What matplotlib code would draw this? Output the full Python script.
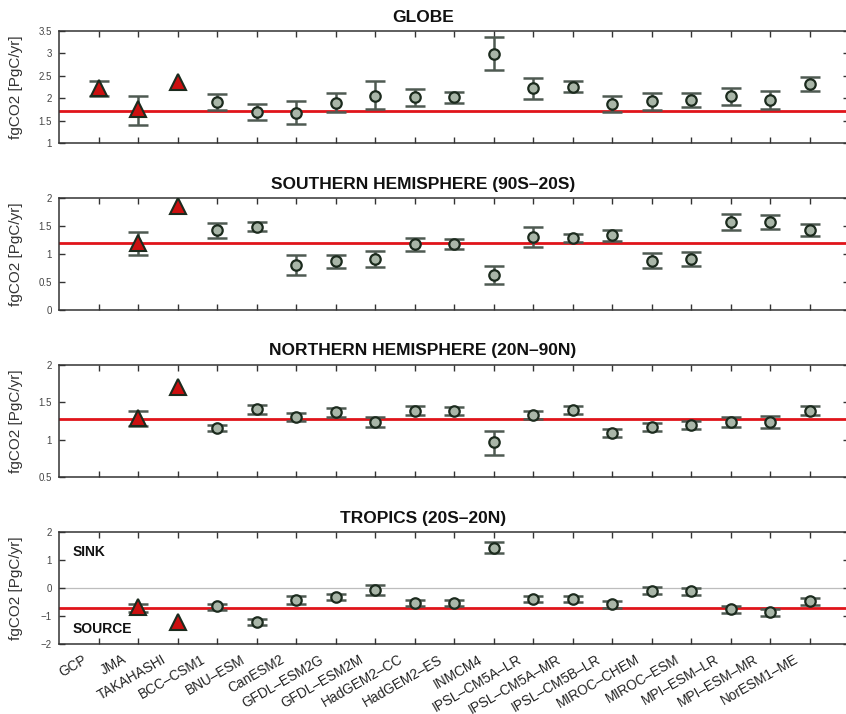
import numpy as np
import matplotlib
matplotlib.use("Agg")
import matplotlib.pyplot as plt
from matplotlib.transforms import ScaledTranslation

plt.rcParams['font.family'] = ['Liberation Sans', 'DejaVu Sans']

nan = np.nan

# Data products (first three) and CMIP5 models
names = ['GCP', 'JMA', 'TAKAHASHI', 'BCC\u2013CSM1', 'BNU\u2013ESM', 'CanESM2',
         'GFDL\u2013ESM2G', 'GFDL\u2013ESM2M', 'HadGEM2\u2013CC', 'HadGEM2\u2013ES',
         'INMCM4', 'IPSL\u2013CM5A\u2013LR', 'IPSL\u2013CM5A\u2013MR', 'IPSL\u2013CM5B\u2013LR',
         'MIROC\u2013CHEM', 'MIROC\u2013ESM', 'MPI\u2013ESM\u2013LR', 'MPI\u2013ESM\u2013MR',
         'NorESM1\u2013ME']
n_obs = 3

# GLOBE
globe_mean = [2.22, 1.75, 2.37, 1.91, 1.69, 1.67, 1.89, 2.06, 2.02, 2.02,
              2.98, 2.22, 2.26, 1.87, 1.93, 1.96, 2.04, 1.95, 2.31]
globe_low = [2.04, 1.40, nan, 1.74, 1.52, 1.42, 1.69, 1.77, 1.82, 1.90,
             2.62, 1.99, 2.14, 1.69, 1.74, 1.80, 1.85, 1.76, 2.16]
globe_high = [2.39, 2.05, nan, 2.10, 1.88, 1.93, 2.11, 2.39, 2.20, 2.14,
              3.36, 2.45, 2.39, 2.04, 2.11, 2.11, 2.22, 2.16, 2.47]
globe_ref = 1.72

# SOUTHERN HEMISPHERE (90S-20S)
sh_mean = [nan, 1.20, 1.85, 1.42, 1.48, 0.80, 0.87, 0.91, 1.17, 1.18,
           0.62, 1.31, 1.29, 1.34, 0.88, 0.91, 1.57, 1.57, 1.43]
sh_low = [nan, 0.985, nan, 1.29, 1.41, 0.62, 0.75, 0.77, 1.06, 1.09,
          0.46, 1.12, 1.21, 1.24, 0.75, 0.78, 1.42, 1.45, 1.33]
sh_high = [nan, 1.39, nan, 1.555, 1.57, 0.99, 0.99, 1.05, 1.28, 1.27,
           0.78, 1.48, 1.36, 1.43, 1.01, 1.03, 1.72, 1.69, 1.53]
sh_ref = 1.19

# NORTHERN HEMISPHERE (20N-90N)
nh_mean = [nan, 1.29, 1.71, 1.15, 1.405, 1.30, 1.365, 1.24, 1.39, 1.38,
           0.97, 1.335, 1.40, 1.085, 1.17, 1.20, 1.24, 1.24, 1.39]
nh_low = [nan, 1.18, nan, 1.11, 1.35, 1.25, 1.31, 1.17, 1.33, 1.325,
          0.80, 1.28, 1.34, 1.03, 1.12, 1.14, 1.17, 1.16, 1.33]
nh_high = [nan, 1.38, nan, 1.20, 1.46, 1.36, 1.43, 1.30, 1.445, 1.44,
           1.11, 1.39, 1.455, 1.14, 1.22, 1.255, 1.31, 1.32, 1.45]
nh_ref = 1.28

# TROPICS (20S-20N)
tr_mean = [nan, -0.69, -1.20, -0.66, -1.20, -0.42, -0.32, -0.06, -0.54, -0.54,
           1.43, -0.39, -0.40, -0.57, -0.10, -0.11, -0.76, -0.87, -0.48]
tr_low = [nan, -0.84, nan, -0.78, -1.32, -0.57, -0.44, -0.24, -0.66, -0.66,
          1.24, -0.51, -0.51, -0.70, -0.23, -0.24, -0.88, -0.99, -0.61]
tr_high = [nan, -0.57, nan, -0.57, -1.09, -0.28, -0.21, 0.11, -0.44, -0.44,
           1.63, -0.28, -0.29, -0.45, 0.02, 0.01, -0.64, -0.76, -0.36]
tr_ref = -0.73

panels = [
    ('GLOBE', globe_mean, globe_low, globe_high, globe_ref, (1, 3.5),
     [1, 1.5, 2, 2.5, 3, 3.5], ['1', '1.5', '2', '2.5', '3', '3.5']),
    ('SOUTHERN HEMISPHERE (90S\u201320S)', sh_mean, sh_low, sh_high, sh_ref, (0, 2),
     [0, 0.5, 1, 1.5, 2], ['0', '0.5', '1', '1.5', '2']),
    ('NORTHERN HEMISPHERE (20N\u201390N)', nh_mean, nh_low, nh_high, nh_ref, (0.5, 2),
     [0.5, 1, 1.5, 2], ['0.5', '1', '1.5', '2']),
    ('TROPICS (20S\u201320N)', tr_mean, tr_low, tr_high, tr_ref, (-2, 2),
     [-2, -1, 0, 1, 2], ['\u22122', '\u22121', '0', '1', '2']),
]

W, H = 846, 714
fig = plt.figure(figsize=(W / 100, H / 100), dpi=100)

ax_left = 59 / W
ax_width = (849 - 59) / W
ax_h = 112 / H
tops = [31, 198, 365, 532]
title_y = [17, 184, 350, 518]

fill_model = '#a9b6a8'
edge_dark = '#1c2b1e'
err_col = '#4f5a52'
red = '#e0141a'

x = np.arange(1, len(names) + 1)

for i, (title, mean, low, high, ref, ylim, yt, ytl) in enumerate(panels):
    bottom = 1 - (tops[i] + 112) / H
    ax = fig.add_axes([ax_left, bottom, ax_width, ax_h])
    mean = np.asarray(mean, float)
    low = np.asarray(low, float)
    high = np.asarray(high, float)

    if i == 3:
        ax.axhline(0, color='#bdbdbd', lw=0.9, zorder=1)
    ax.axhline(ref, color=red, lw=2.0, zorder=2)

    has_err = ~np.isnan(low)
    ax.errorbar(x[has_err], mean[has_err],
                yerr=[mean[has_err] - low[has_err], high[has_err] - mean[has_err]],
                fmt='none', ecolor=err_col, elinewidth=1.8, capsize=7.2,
                capthick=1.8, zorder=3)

    obs = np.arange(len(names)) < n_obs
    ax.plot(x[obs], mean[obs], linestyle='none', marker='^', markersize=11.5,
            markerfacecolor='#cc1010', markeredgecolor=edge_dark,
            markeredgewidth=1.5, zorder=4)
    ax.plot(x[~obs], mean[~obs], linestyle='none', marker='o', markersize=7.5,
            markerfacecolor=fill_model, markeredgecolor=edge_dark,
            markeredgewidth=1.6, zorder=4)

    ax.set_xlim(0, len(names) + 1)
    ax.set_ylim(*ylim)
    ax.set_xticks(x)
    ax.set_yticks(yt)
    ax.set_yticklabels(ytl)
    ax.tick_params(axis='both', direction='in', length=4.5, width=1.0,
                   color='#333333', top=True, right=True)
    ax.tick_params(axis='y', labelsize=7, labelcolor='#444444', pad=5)
    for s in ax.spines.values():
        s.set_color('#333333')
        s.set_linewidth(1.1)

    ax.set_ylabel('fgCO2 [PgC/yr]', fontsize=11, color='#333333')
    ax.yaxis.set_label_coords(-0.046, 0.5)

    fig.text(0.5, 1 - title_y[i] / H, title, ha='center', va='center',
             fontsize=12.5, fontweight='bold', color='#111111')

    if i < 3:
        ax.set_xticklabels([])
    else:
        ax.set_xticklabels(names, rotation=30, ha='right', fontsize=9.8,
                           color='#222222')
        ax.tick_params(axis='x', pad=6)
        shift = ScaledTranslation(-9 / 100, 0, fig.dpi_scale_trans)
        for lab in ax.get_xticklabels():
            lab.set_transform(lab.get_transform() + shift)
        ax.text(0.35, 1.3, 'SINK', fontsize=10, fontweight='bold',
                color='#111111', va='center')
        ax.text(0.35, -1.45, 'SOURCE', fontsize=10, fontweight='bold',
                color='#111111', va='center')

fig.savefig('out.png', dpi=100)
